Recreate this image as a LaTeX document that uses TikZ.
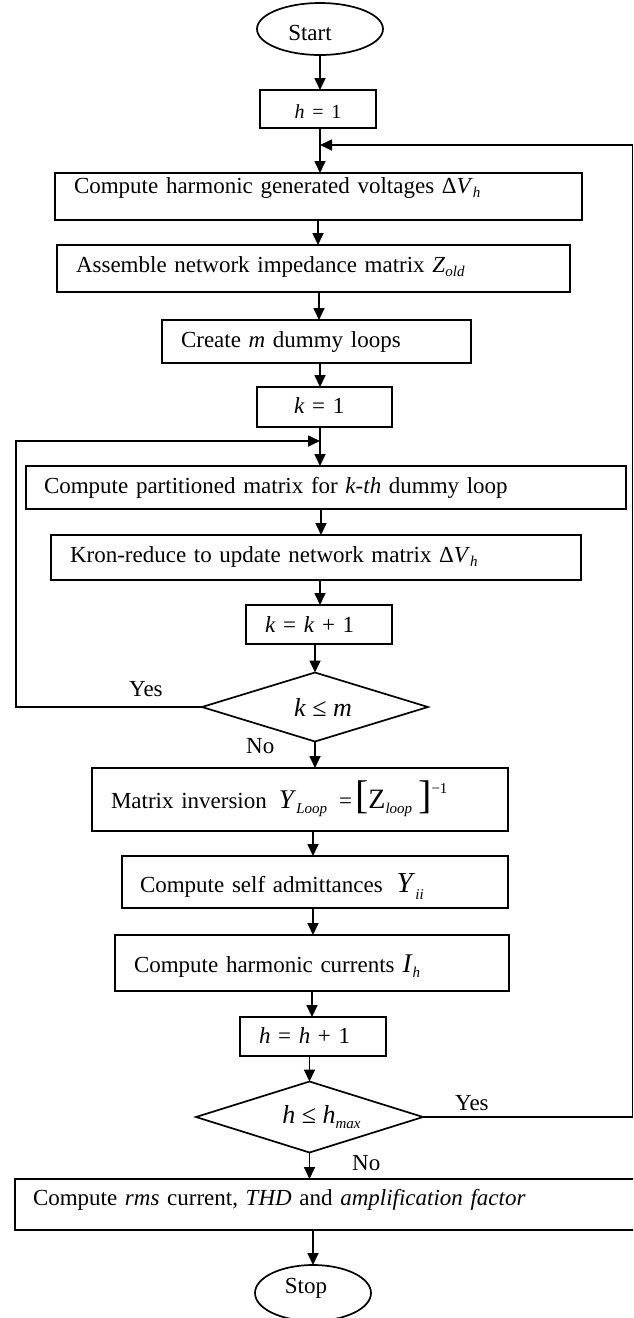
\documentclass[tikz,border=0pt]{standalone}
\usepackage{fontspec}
\setmainfont{Liberation Serif}
\usetikzlibrary{arrows.meta,shapes.geometric}

\newcommand\figfont{\fontsize{23}{27}\selectfont}
\newcommand\subtx[2][4.5pt]{\raisebox{-#1}{\fontsize{15}{15}\selectfont\itshape #2}}
\newcommand\sized[2]{{\fontsize{#1}{#1}\selectfont #2}}

% process box: name, left, top, right, bottom, text baseline, text start, text
\newcommand\procbox[8]{%
  \pgfmathsetmacro\pbL{#7-#2}%
  \pgfmathsetmacro\pbW{#4-#7-\pbL}%
  \pgfmathsetmacro\pbH{#6-#3}%
  \pgfmathsetmacro\pbD{#5-#6}%
  \node[proc, inner xsep=\pbL pt, text width=\pbW pt, text height=\pbH pt, text depth=\pbD pt] (#1) at (#2,#3) {#8};}

% box with centred text: name, left, top, right, bottom, text baseline, text
\newcommand\cenbox[7]{%
  \pgfmathsetmacro\pbW{#4-#2-2}%
  \pgfmathsetmacro\pbH{#6-#3}%
  \pgfmathsetmacro\pbD{#5-#6}%
  \node[proc, align=center, inner xsep=1pt, text width=\pbW pt, text height=\pbH pt, text depth=\pbD pt] (#1) at (#2,#3) {#7};}

% straight downward arrow between two nodes at a given x
\newcommand\vlink[3]{\draw[arr] (#1.south -| #3,0) -- (#2.north -| #3,0);}

\tikzset{
  proc/.style={draw, line width=1.7pt, inner ysep=0pt, outer sep=0pt, anchor=north west, align=left, font=\figfont},
  term/.style={draw, ellipse, line width=1.7pt, inner sep=0pt, outer sep=0pt, font=\figfont},
  decision/.style={draw, diamond, line width=1.7pt, inner sep=0pt, outer sep=0pt, shape aspect=3, font=\fontsize{26}{30}\selectfont},
  lbl/.style={inner sep=0pt, font=\figfont},
  arr/.style={line width=1.7pt, -{Triangle[length=12pt,width=11pt]}},
}

\begin{document}
\begin{tikzpicture}[x=1pt,y=-1pt]
\useasboundingbox (0,0) rectangle (633,1318);
\clip (0,0) rectangle (633,1318);
\fill[white] (0,0) rectangle (633,1318);

% terminals
\node[term, minimum width=126pt, minimum height=52pt, text height=22pt, text depth=0pt] (start) at (320,29) {Start\hspace{20pt}\null};
\node[term, minimum width=116pt, minimum height=56pt, text height=14pt, text depth=14pt] (stop) at (313,1293) {Stop\hspace{14pt}\null};

% process boxes
\cenbox{h1}{260}{90}{376}{128}{118}{\sized{20}{\textit{h} = 1}}
\procbox{volt}{55}{173}{582}{220}{193}{74}{Compute harmonic generated voltages Δ\textit{V}\subtx{h}}
\procbox{zold}{57}{245}{570}{292}{272}{76}{Assemble network impedance matrix \textit{Z}\subtx{old}}
\procbox{dummy}{162}{320}{471}{363}{347}{181}{Create \textit{m} dummy loops}
\procbox{k1}{257}{387}{392}{427}{413}{294}{\textit{k} = 1}
\procbox{part}{26}{466}{626}{509}{493}{44}{Compute partitioned matrix for \textit{k-th} dummy loop}
\procbox{kron}{51}{535}{581}{580}{562}{70}{Kron-reduce to update network matrix Δ\textit{V}\subtx{h}}
\procbox{kinc}{246}{605}{392}{644}{632}{265}{\textit{k} = \textit{k} + 1}
\procbox{inv}{92}{768}{508}{831}{808}{111}{Matrix inversion\hspace{12pt}\sized{27}{\textit{Y}}\subtx[5pt]{Loop}\hspace{12pt}=\hspace{3pt}\sized{40}{[}\sized{28}{Z}\subtx[5pt]{loop}\hspace{6pt}\sized{40}{]}\raisebox{15pt}{\fontsize{15}{15}\selectfont −1}}
\procbox{adm}{122}{856}{508}{908}{892}{140}{Compute self admittances\hspace{14pt}\sized{29}{\textit{Y}}\subtx[7pt]{ii}}
\procbox{cur}{115}{935}{509}{991}{972}{134}{Compute harmonic currents\hspace{8pt}\sized{27}{\textit{I}}\subtx[5pt]{h}}
\procbox{hinc}{240}{1017}{386}{1056}{1043}{259}{\textit{h} = \textit{h} + 1}
\procbox{final}{15}{1179}{660}{1230}{1205}{33}{Compute \textit{rms} current, \textit{THD} and \textit{amplification factor}}

% decisions
\node[decision, minimum width=226pt, minimum height=69pt] (kdec) at (315,707) {\hspace{16pt}\textit{k} ≤ \textit{m}};
\node[decision, minimum width=227pt, minimum height=71pt] (hdec) at (309.5,1117) {\hspace{24pt}\textit{h} ≤ \textit{h}\subtx{max}};

% branch labels
\node[lbl, anchor=base west] (kyes) at (129,696) {Yes};
\node[lbl, anchor=base west] (kno) at (246,753) {No};
\node[lbl, anchor=base west] (hyes) at (455,1110) {Yes};
\node[lbl, anchor=base west] (hno) at (352,1170) {No};

% main flow
\draw[arr] (start.south) -- (start.south |- h1.north);
\coordinate (hjoin) at (320,145);
\draw[arr] (h1.south -| hjoin) -- (hjoin |- volt.north);
\vlink{volt}{zold}{318}
\vlink{zold}{dummy}{319}
\vlink{dummy}{k1}{320}
\coordinate (kjoin) at (320,441);
\draw[arr] (k1.south -| kjoin) -- (kjoin |- part.north);
\vlink{part}{kron}{321}
\vlink{kron}{kinc}{320}
\draw[arr] (kinc.south -| kdec.north) -- (kdec.north);
\draw[arr] (kdec.south) -- (kdec.south |- inv.north);
\vlink{inv}{adm}{313}
\vlink{adm}{cur}{313}
\vlink{cur}{hinc}{312}
\draw[arr] (hinc.south -| hdec.north) -- (hdec.north);
\draw[arr] (hdec.south) -- (hdec.south |- final.north);
\vlink{final}{stop}{313}

% loop back paths
\coordinate (kleft) at (16,441);
\draw[arr] (kdec.west) -| (kleft) -- (kjoin);
\coordinate (hright) at (632.4,145);
\draw[arr] (hdec.east) -| (hright) -- (hjoin);
\end{tikzpicture}
\end{document}
